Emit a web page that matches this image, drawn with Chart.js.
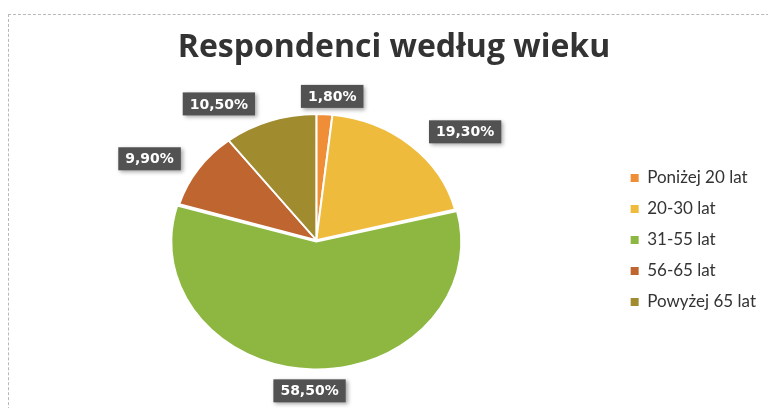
<!DOCTYPE html>
<html><head><meta charset="utf-8">
<script src="https://cdn.jsdelivr.net/npm/chart.js@4"></script>
<style>
html,body{margin:0;padding:0;background:#fff;width:768px;height:408px;overflow:hidden;}
#frame{position:absolute;left:8px;top:14px;width:800px;height:420px;border-top:1px dashed #b8b8b8;border-left:1px dashed #b8b8b8;}
#wrap{position:absolute;left:0;top:0;width:768px;height:408px;}
</style></head><body>
<div id="frame"></div>
<div id="wrap"><canvas id="c" width="768" height="408"></canvas></div>
<script>
const chartTitle = 'Respondenci według wieku';
const categories = ['Poniżej 20 lat', '20-30 lat', '31-55 lat', '56-65 lat', 'Powyżej 65 lat'];
const shares = [1.8, 19.3, 58.5, 9.9, 10.5];
const sliceColors = ['#EF8E36', '#EEBB3C', '#8DB741', '#BE6530', '#A08B2E'];

const SQUASH = 0.88;

function fmt(v){ return v.toFixed(2).replace('.', ',') + '%'; }

const titlePlugin = {
  id: 'titleText',
  afterDraw(chart){
    const ctx = chart.ctx;
    ctx.save();
    ctx.font = 'bold 32px "Open Sans"';
    ctx.fillStyle = '#333333';
    ctx.textAlign = 'center';
    ctx.textBaseline = 'middle';
    ctx.fillText(chartTitle, 394, 48);
    ctx.restore();
  }
};

// draws the pie slightly flattened, like the scanned original
const squashPlugin = {
  id: 'squash',
  beforeDatasetsDraw(chart){
    const a = chart.getDatasetMeta(0).data[0];
    const ctx = chart.ctx;
    ctx.save();
    ctx.translate(a.x, a.y);
    ctx.scale(1, SQUASH);
    ctx.translate(-a.x, -a.y);
  },
  afterDatasetsDraw(chart){
    chart.ctx.restore();
  }
};

const labelPlugin = {
  id: 'outsideLabels',
  afterDatasetsDraw(chart){
    const ctx = chart.ctx;
    const meta = chart.getDatasetMeta(0);
    const ds = chart.data.datasets[0];
    ctx.save();
    ctx.font = 'bold 14px "DejaVu Sans"';
    ctx.textAlign = 'center';
    ctx.textBaseline = 'middle';
    meta.data.forEach((arc, i) => {
      const p = arc.getProps(['x','y','startAngle','endAngle','outerRadius'], true);
      const mid = (p.startAngle + p.endAngle) / 2;
      const ux = Math.cos(mid), uy = Math.sin(mid);
      const off = (ds.offset && ds.offset[i]) || 0;
      const cx = p.x + ux * off, cy = p.y + uy * off * SQUASH;
      const text = fmt(ds.data[i]);
      const w = ctx.measureText(text).width + 14;
      const h = 23;
      const rx = p.outerRadius + 6;
      const ry = p.outerRadius * SQUASH + 18;
      const sx = Math.sign(ux);
      const bx = cx + ux * rx + sx * w * 0.7 * Math.min(1, 3 * Math.abs(ux));
      const by = cy + uy * ry;
      ctx.save();
      ctx.shadowColor = 'rgba(0,0,0,0.35)';
      ctx.shadowBlur = 4;
      ctx.shadowOffsetX = 2;
      ctx.shadowOffsetY = 2;
      ctx.fillStyle = '#525252';
      ctx.fillRect(bx - w/2, by - h/2, w, h);
      ctx.restore();
      ctx.fillStyle = '#ffffff';
      ctx.fillText(text, bx, by + 1);
    });
    ctx.restore();
  }
};

new Chart(document.getElementById('c'), {
  type: 'pie',
  data: {
    labels: categories,
    datasets: [{
      data: shares,
      backgroundColor: sliceColors,
      borderColor: '#ffffff',
      borderWidth: 2,
      offset: [0, 0, 8, 0, 0],
      radius: 143
    }]
  },
  options: {
    responsive: false,
    animation: false,
    devicePixelRatio: 1,
    layout: { padding: { left: 16, right: 2, top: 72, bottom: 0 } },
    plugins: {
      title: { display: false },
      tooltip: { enabled: false },
      legend: {
        position: 'right',
        labels: {
          boxWidth: 8,
          boxHeight: 8,
          padding: 14,
          color: '#333333',
          font: { family: 'Lato', size: 17 },
          generateLabels(chart){
            const items = Chart.overrides.pie.plugins.legend.labels.generateLabels(chart);
            return items.map(it => Object.assign(it, { lineWidth: 0, strokeStyle: it.fillStyle }));
          }
        }
      }
    }
  },
  plugins: [squashPlugin, titlePlugin, labelPlugin]
});
</script>
</body></html>
